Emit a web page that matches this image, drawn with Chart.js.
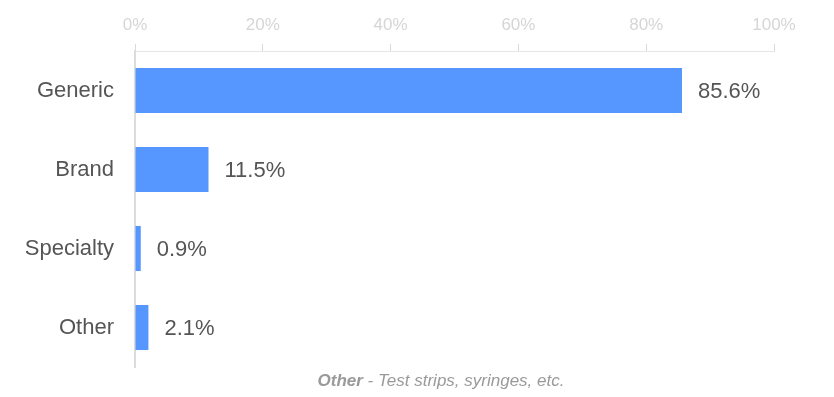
<!DOCTYPE html>
<html>
<head>
<meta charset="utf-8">
<script src="https://cdn.jsdelivr.net/npm/chart.js@4/dist/chart.umd.min.js"></script>
<style>
  html, body { margin: 0; padding: 0; background: #fff; }
  #wrap { width: 834px; height: 397px; position: relative; }
</style>
</head>
<body>
<div id="wrap"><canvas id="c" width="834" height="397"></canvas></div>
<script>
// Share of spend by drug type (percent)
const categories = ['Generic', 'Brand', 'Specialty', 'Other'];
const shares = [85.6, 11.5, 0.9, 2.1];
const tickValues = [0, 20, 40, 60, 80, 100];
const noteLead = 'Other';
const noteRest = ' - Test strips, syringes, etc.';

const FONT = '"Liberation Sans", Arial, sans-serif';
const BAR_COLOR = '#5596FF';

// Writes the percentage just past the end of each bar
const valueLabels = {
  id: 'valueLabels',
  afterDatasetsDraw(chart) {
    const ctx = chart.ctx;
    const meta = chart.getDatasetMeta(0);
    ctx.save();
    ctx.font = '22px ' + FONT;
    ctx.fillStyle = '#555555';
    ctx.textAlign = 'left';
    ctx.textBaseline = 'middle';
    meta.data.forEach((bar, i) => {
      ctx.fillText(shares[i].toFixed(1) + '%', bar.x + 16, bar.y + 1);
    });
    ctx.restore();
  }
};

// Footnote under the plot
const footnote = {
  id: 'footnote',
  afterDraw(chart) {
    const ctx = chart.ctx;
    ctx.save();
    ctx.fillStyle = '#9a9a9a';
    ctx.textBaseline = 'middle';
    ctx.font = 'italic bold 17px ' + FONT;
    const w1 = ctx.measureText(noteLead).width;
    ctx.font = 'italic 17px ' + FONT;
    const w2 = ctx.measureText(noteRest).width;
    const cx = 441;
    const x = cx - (w1 + w2) / 2;
    const y = 381;
    ctx.textAlign = 'left';
    ctx.font = 'italic bold 17px ' + FONT;
    ctx.fillText(noteLead, x, y);
    ctx.font = 'italic 17px ' + FONT;
    ctx.fillText(noteRest, x + w1, y);
    ctx.restore();
  }
};

new Chart(document.getElementById('c'), {
  type: 'bar',
  data: {
    labels: categories,
    datasets: [{
      data: shares,
      backgroundColor: BAR_COLOR,
      borderWidth: 0,
      barPercentage: 0.57,
      categoryPercentage: 1.0
    }]
  },
  options: {
    indexAxis: 'y',
    responsive: false,
    animation: false,
    devicePixelRatio: 1,
    layout: { padding: { left: 0, right: 60, top: 0, bottom: 30 } },
    plugins: {
      legend: { display: false },
      tooltip: { enabled: false }
    },
    scales: {
      x: {
        position: 'top',
        min: 0,
        max: 100,
        afterBuildTicks(scale) {
          scale.ticks = tickValues.map(v => ({ value: v }));
        },
        afterFit(scale) { scale.height = 51; },
        grid: {
          display: true,
          drawOnChartArea: false,
          drawTicks: true,
          tickLength: 7,
          color: '#d9d9d9'
        },
        border: { display: true, color: '#e6e6e6', width: 1 },
        ticks: {
          padding: 8,
          color: '#d6d6d6',
          font: { family: FONT, size: 17 },
          callback: v => v + '%'
        }
      },
      y: {
        afterFit(scale) {
          scale.width = 135;
          scale.paddingTop = 0;
          scale.paddingBottom = 0;
        },
        grid: { display: false, drawTicks: false },
        border: { display: true, color: '#dcdcdc', width: 2 },
        ticks: {
          padding: 21,
          color: '#555555',
          font: { family: FONT, size: 22 }
        }
      }
    }
  },
  plugins: [valueLabels, footnote]
});
</script>
</body>
</html>
